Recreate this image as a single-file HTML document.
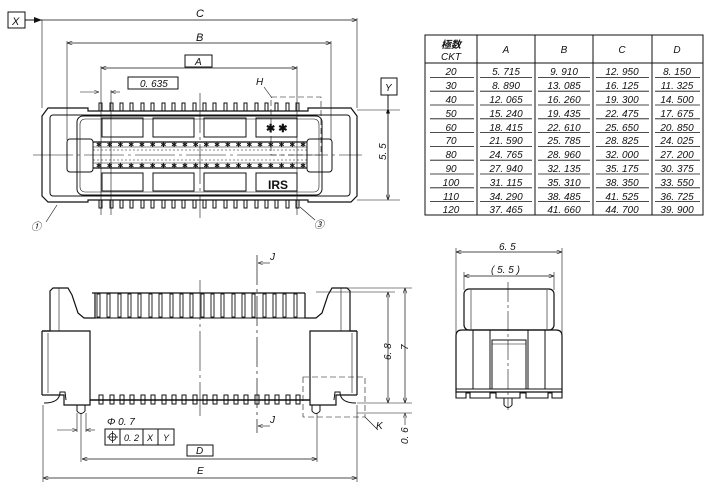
<!DOCTYPE html>
<html><head><meta charset="utf-8"><style>
html,body{margin:0;padding:0;background:#fff}
svg{display:block}
text{font-family:"Liberation Sans","Noto Sans CJK JP",sans-serif;font-style:italic;fill:#111}
</style></head><body>
<svg width="709" height="500" viewBox="0 0 709 500" xmlns="http://www.w3.org/2000/svg" stroke="#111" fill="none" stroke-width="1">
<defs>
<marker id="a" markerWidth="8" markerHeight="6" refX="8" refY="3" orient="auto-start-reverse"><path d="M0,0 L8,3 L0,6" stroke="#111" fill="none" stroke-width="0.8"/></marker>
<marker id="f" markerWidth="8" markerHeight="6" refX="8" refY="3" orient="auto-start-reverse"><path d="M0,0 L8,3 L0,6z" fill="#111" stroke="none"/></marker>
</defs>
<!-- ===== TOP VIEW ===== -->
<rect x="8" y="12" width="17" height="16"/><text x="12" y="25" font-size="11" stroke="none">X</text>
<line x1="25" y1="20" x2="42" y2="20" marker-end="url(#f)"/>
<line x1="42" y1="20" x2="357" y2="20" marker-end="url(#a)" stroke-width="0.7"/>
<text x="196" y="17" font-size="11" stroke="none">C</text>
<line x1="42" y1="20" x2="42" y2="108" stroke-width="0.6"/><line x1="357" y1="18" x2="357" y2="108" stroke-width="0.6"/>
<line x1="67" y1="43" x2="331" y2="43" marker-start="url(#a)" marker-end="url(#a)" stroke-width="0.7"/>
<text x="196" y="41" font-size="11" stroke="none">B</text>
<line x1="67" y1="41" x2="67" y2="140" stroke-width="0.6"/><line x1="331" y1="41" x2="331" y2="140" stroke-width="0.6"/>
<rect x="185" y="55" width="27" height="12"/><text x="195" y="65" font-size="10" stroke="none">A</text>
<line x1="101" y1="68" x2="297" y2="68" marker-start="url(#a)" marker-end="url(#a)" stroke-width="0.7"/>
<line x1="101" y1="66" x2="101" y2="215" stroke-width="0.6"/><line x1="297" y1="66" x2="297" y2="215" stroke-width="0.6"/>
<rect x="128" y="77" width="50" height="12"/><text x="140" y="87" font-size="10" stroke="none">0. 635</text>
<line x1="80" y1="92" x2="99" y2="92" marker-end="url(#a)" stroke-width="0.6"/>
<line x1="120" y1="92" x2="111" y2="92" marker-end="url(#a)" stroke-width="0.6"/>
<line x1="111" y1="90" x2="111" y2="215" stroke-width="0.6"/>
<text x="256" y="85" font-size="10" stroke="none">H</text>
<line x1="264" y1="87" x2="272" y2="98" stroke-width="0.6"/>
<rect x="271" y="97" width="50" height="58" stroke-dasharray="6,3" stroke-width="0.6"/>
<rect x="381" y="78" width="16" height="17"/><text x="385" y="91" font-size="10" stroke="none">Y</text>
<line x1="388" y1="95" x2="388" y2="108" />
<line x1="388" y1="200" x2="388" y2="108" marker-end="url(#f)" stroke-width="0.7"/>
<line x1="388" y1="110" x2="388" y2="200" marker-end="url(#a)" stroke-width="0.7"/>
<line x1="357" y1="110" x2="400" y2="110" stroke-width="0.6"/><line x1="357" y1="200" x2="400" y2="200" stroke-width="0.6"/>
<text x="0" y="0" font-size="10" stroke="none" transform="translate(386,160) rotate(-90)">5. 5</text>
<!-- body -->
<path d="M42,116 L48,108 L88,108 L88,111 L308,111 L308,108 L351,108 L357,116 L357,196 L351,202 L308,202 L308,200 L88,200 L88,202 L48,202 L42,196 Z" stroke-width="1.2"/>
<rect x="50" y="115" width="300" height="81" rx="3"/>
<rect x="77" y="116" width="245" height="79" rx="6"/>
<rect x="80" y="119" width="239" height="73" rx="5" stroke-width="0.6"/>
<g stroke-width="1">
<rect x="102" y="118" width="41" height="19"/><rect x="153" y="118" width="41" height="19"/><rect x="204" y="118" width="42" height="19"/><rect x="256" y="118" width="41" height="19"/>
<rect x="102" y="173" width="41" height="18"/><rect x="153" y="173" width="41" height="18"/><rect x="204" y="173" width="42" height="18"/><rect x="256" y="173" width="41" height="18"/>
</g>
<rect x="67" y="139" width="26" height="33" rx="3"/><rect x="307" y="139" width="25" height="33" rx="3"/>
<line x1="93" y1="142" x2="307" y2="142" stroke-width="1.2"/><line x1="93" y1="147" x2="307" y2="147" stroke-width="0.6"/>
<line x1="93" y1="163" x2="307" y2="163" stroke-width="0.6"/><line x1="93" y1="168" x2="307" y2="168" stroke-width="1.2"/>
<g font-size="7" stroke="none">
<text x="96" y="147" textLength="210" lengthAdjust="spacing" style="font-style:normal">✱✱✱✱✱✱✱✱✱✱✱✱✱✱✱✱✱✱✱✱</text>
<text x="96" y="168" textLength="210" lengthAdjust="spacing" style="font-style:normal">✱✱✱✱✱✱✱✱✱✱✱✱✱✱✱✱✱✱✱✱</text>
</g>
<line x1="93" y1="150" x2="307" y2="150" stroke-width="0.5" stroke-dasharray="2,2"/>
<line x1="93" y1="160" x2="307" y2="160" stroke-width="0.5" stroke-dasharray="2,2"/>
<line x1="33" y1="155" x2="362" y2="155" stroke-width="0.6" stroke-dasharray="40,4,3,4"/>
<line x1="200" y1="93" x2="200" y2="218" stroke-width="0.6" stroke-dasharray="40,4,3,4"/>
<g id="pt" stroke-width="1">
<rect x="99" y="103" width="3" height="8"/><rect x="110" y="103" width="3" height="8"/><rect x="120" y="103" width="3" height="8"/><rect x="130" y="103" width="3" height="8"/><rect x="141" y="103" width="3" height="8"/><rect x="151" y="103" width="3" height="8"/><rect x="162" y="103" width="3" height="8"/><rect x="172" y="103" width="3" height="8"/><rect x="182" y="103" width="3" height="8"/><rect x="193" y="103" width="3" height="8"/><rect x="203" y="103" width="3" height="8"/><rect x="213" y="103" width="3" height="8"/><rect x="224" y="103" width="3" height="8"/><rect x="234" y="103" width="3" height="8"/><rect x="244" y="103" width="3" height="8"/><rect x="255" y="103" width="3" height="8"/><rect x="265" y="103" width="3" height="8"/><rect x="275" y="103" width="3" height="8"/><rect x="286" y="103" width="3" height="8"/><rect x="296" y="103" width="3" height="8"/>
</g>
<use href="#pt" transform="translate(0,97)"/>
<text x="266" y="132" font-size="11" stroke="none" style="font-style:normal;font-weight:bold">✱ ✱</text>
<text x="268" y="189" font-size="12" stroke="none" style="font-style:normal;font-weight:bold">IRS</text>
<text x="31" y="230" font-size="10" stroke="none">①</text><line x1="46" y1="222" x2="57" y2="205" stroke-width="0.6"/>
<text x="314" y="228" font-size="10" stroke="none">③</text><line x1="315" y1="220" x2="300" y2="207" stroke-width="0.6"/>
<!-- ===== TABLE ===== -->
<g stroke-width="1">
<rect x="425" y="35" width="278" height="180"/>
<line x1="477" y1="35" x2="477" y2="215"/><line x1="535" y1="35" x2="535" y2="215"/><line x1="593" y1="35" x2="593" y2="215"/><line x1="652" y1="35" x2="652" y2="215"/>
<line x1="425" y1="63" x2="703" y2="63"/>
</g>
<g stroke-width="0.8">
<path d="M430,77.4H474M480,77.4H532M538,77.4H590M596,77.4H649M655,77.4H700 M430,91.2H474M480,91.2H532M538,91.2H590M596,91.2H649M655,91.2H700 M430,105H474M480,105H532M538,105H590M596,105H649M655,105H700 M430,118.8H474M480,118.8H532M538,118.8H590M596,118.8H649M655,118.8H700 M430,132.6H474M480,132.6H532M538,132.6H590M596,132.6H649M655,132.6H700 M430,146.4H474M480,146.4H532M538,146.4H590M596,146.4H649M655,146.4H700 M430,160.2H474M480,160.2H532M538,160.2H590M596,160.2H649M655,160.2H700 M430,174H474M480,174H532M538,174H590M596,174H649M655,174H700 M430,187.8H474M480,187.8H532M538,187.8H590M596,187.8H649M655,187.8H700 M430,201.6H474M480,201.6H532M538,201.6H590M596,201.6H649M655,201.6H700"/>
</g>
<g font-size="10" stroke="none" text-anchor="middle">
<text x="451" y="48" font-weight="bold">極数</text><text x="451" y="60">CKT</text>
<text x="506" y="53">A</text><text x="564" y="53">B</text><text x="622" y="53">C</text><text x="677" y="53">D</text>
<text x="451" y="75">20</text><text x="506" y="75">5. 715</text><text x="564" y="75">9. 910</text><text x="622" y="75">12. 950</text><text x="677" y="75">8. 150</text>
<text x="451" y="89">30</text><text x="506" y="89">8. 890</text><text x="564" y="89">13. 085</text><text x="622" y="89">16. 125</text><text x="677" y="89">11. 325</text>
<text x="451" y="103">40</text><text x="506" y="103">12. 065</text><text x="564" y="103">16. 260</text><text x="622" y="103">19. 300</text><text x="677" y="103">14. 500</text>
<text x="451" y="117">50</text><text x="506" y="117">15. 240</text><text x="564" y="117">19. 435</text><text x="622" y="117">22. 475</text><text x="677" y="117">17. 675</text>
<text x="451" y="131">60</text><text x="506" y="131">18. 415</text><text x="564" y="131">22. 610</text><text x="622" y="131">25. 650</text><text x="677" y="131">20. 850</text>
<text x="451" y="144">70</text><text x="506" y="144">21. 590</text><text x="564" y="144">25. 785</text><text x="622" y="144">28. 825</text><text x="677" y="144">24. 025</text>
<text x="451" y="158">80</text><text x="506" y="158">24. 765</text><text x="564" y="158">28. 960</text><text x="622" y="158">32. 000</text><text x="677" y="158">27. 200</text>
<text x="451" y="172">90</text><text x="506" y="172">27. 940</text><text x="564" y="172">32. 135</text><text x="622" y="172">35. 175</text><text x="677" y="172">30. 375</text>
<text x="451" y="186">100</text><text x="506" y="186">31. 115</text><text x="564" y="186">35. 310</text><text x="622" y="186">38. 350</text><text x="677" y="186">33. 550</text>
<text x="451" y="200">110</text><text x="506" y="200">34. 290</text><text x="564" y="200">38. 485</text><text x="622" y="200">41. 525</text><text x="677" y="200">36. 725</text>
<text x="451" y="213">120</text><text x="506" y="213">37. 465</text><text x="564" y="213">41. 660</text><text x="622" y="213">44. 700</text><text x="677" y="213">39. 900</text>
</g>
<!-- ===== FRONT VIEW ===== -->
<path d="M42,331 L50,331 L50,291 L53,288 L68,288 L72,295 L78,313 L84,318 L95,318 L95,293" stroke-width="1.2"/>
<path d="M357,331 L350,331 L350,291 L347,288 L332,288 L328,295 L322,313 L316,318 L305,318 L305,293" stroke-width="1.2"/>
<line x1="59" y1="288" x2="59" y2="331" stroke-width="0.6"/><line x1="341" y1="288" x2="341" y2="331" stroke-width="0.6"/>
<path d="M92,293 L305,293" stroke-width="1.2"/><line x1="84" y1="318" x2="316" y2="318"/>
<g stroke-width="0.9">
<rect x="97" y="294" width="3" height="23"/><rect x="107" y="294" width="3" height="23"/><rect x="118" y="294" width="3" height="23"/><rect x="128" y="294" width="3" height="23"/><rect x="138" y="294" width="3" height="23"/><rect x="149" y="294" width="3" height="23"/><rect x="159" y="294" width="3" height="23"/><rect x="170" y="294" width="3" height="23"/><rect x="180" y="294" width="3" height="23"/><rect x="190" y="294" width="3" height="23"/><rect x="201" y="294" width="3" height="23"/><rect x="211" y="294" width="3" height="23"/><rect x="221" y="294" width="3" height="23"/><rect x="232" y="294" width="3" height="23"/><rect x="242" y="294" width="3" height="23"/><rect x="252" y="294" width="3" height="23"/><rect x="263" y="294" width="3" height="23"/><rect x="273" y="294" width="3" height="23"/><rect x="283" y="294" width="3" height="23"/><rect x="294" y="294" width="3" height="23"/>
</g>
<path d="M42,331 L42,395 M42,331 L90,331 L90,405 L64,405 L64,395 L42,395" stroke-width="1.2"/>
<path d="M357,331 L357,395 M357,331 L310,331 L310,405 L336,405 L336,395 L357,395" stroke-width="1.2"/>
<line x1="48" y1="333" x2="48" y2="393" stroke-width="0.6"/><line x1="352" y1="333" x2="352" y2="393" stroke-width="0.6"/>
<path d="M44,403 Q60,403 60,392 L65,392 L66,400" stroke-width="1"/>
<path d="M356,403 Q340,403 340,392 L335,392 L334,400" stroke-width="1"/>
<line x1="90" y1="400" x2="310" y2="400" stroke-width="1.5"/>
<g stroke-width="1">
<rect x="99" y="395" width="4" height="9"/><rect x="110" y="395" width="4" height="9"/><rect x="120" y="395" width="4" height="9"/><rect x="130" y="395" width="4" height="9"/><rect x="141" y="395" width="4" height="9"/><rect x="151" y="395" width="4" height="9"/><rect x="162" y="395" width="4" height="9"/><rect x="172" y="395" width="4" height="9"/><rect x="182" y="395" width="4" height="9"/><rect x="193" y="395" width="4" height="9"/><rect x="203" y="395" width="4" height="9"/><rect x="213" y="395" width="4" height="9"/><rect x="224" y="395" width="4" height="9"/><rect x="234" y="395" width="4" height="9"/><rect x="244" y="395" width="4" height="9"/><rect x="255" y="395" width="4" height="9"/><rect x="265" y="395" width="4" height="9"/><rect x="275" y="395" width="4" height="9"/><rect x="286" y="395" width="4" height="9"/><rect x="296" y="395" width="4" height="9"/>
</g>
<path d="M77,405 L77,411 Q81,416 85,411 L85,405" /><path d="M312,405 L312,411 Q316,416 320,411 L320,405"/>
<line x1="200" y1="280" x2="200" y2="416" stroke-width="0.6" stroke-dasharray="40,4,3,4"/>
<line x1="257" y1="255" x2="257" y2="433" stroke-width="0.7" stroke-dasharray="30,4,3,4"/>
<line x1="270" y1="263" x2="258" y2="263" marker-end="url(#a)" stroke-width="0.6"/><text x="270" y="260" font-size="10" stroke="none">J</text>
<line x1="270" y1="426" x2="258" y2="426" marker-end="url(#a)" stroke-width="0.6"/><text x="270" y="423" font-size="10" stroke="none">J</text>
<rect x="303" y="377" width="62" height="40" stroke-dasharray="6,3" stroke-width="0.6"/>
<line x1="365" y1="417" x2="378" y2="430" stroke-width="0.6"/><text x="376" y="429" font-size="10" stroke="none">K</text>
<line x1="342" y1="288" x2="412" y2="288" stroke-width="0.6"/><line x1="316" y1="292" x2="395" y2="292" stroke-width="0.6"/>
<line x1="357" y1="403" x2="412" y2="403" stroke-width="0.6"/><line x1="357" y1="413" x2="412" y2="413" stroke-width="0.6"/>
<line x1="388" y1="292" x2="388" y2="403" marker-start="url(#a)" marker-end="url(#a)" stroke-width="0.7"/>
<line x1="405" y1="288" x2="405" y2="403" marker-start="url(#a)" marker-end="url(#a)" stroke-width="0.7"/>
<line x1="405" y1="425" x2="405" y2="413" marker-end="url(#a)" stroke-width="0.6"/>
<text font-size="10" stroke="none" transform="translate(391,360) rotate(-90)">6. 8</text>
<text font-size="10" stroke="none" transform="translate(408,350) rotate(-90)">7</text>
<text font-size="10" stroke="none" transform="translate(408,444) rotate(-90)">0. 6</text>
<text x="107" y="425" font-size="10" stroke="none">Φ 0. 7</text>
<line x1="57" y1="430" x2="77" y2="430" marker-end="url(#a)" stroke-width="0.6"/>
<line x1="95" y1="430" x2="86" y2="430" marker-end="url(#a)" stroke-width="0.6"/>
<line x1="77" y1="413" x2="77" y2="432" stroke-width="0.6"/><line x1="86" y1="413" x2="86" y2="432" stroke-width="0.6"/>
<line x1="81" y1="413" x2="81" y2="462" stroke-width="0.6"/><line x1="317" y1="413" x2="317" y2="462" stroke-width="0.6"/>
<rect x="105" y="429" width="69" height="16"/>
<line x1="120" y1="429" x2="120" y2="445"/><line x1="143" y1="429" x2="143" y2="445"/><line x1="158" y1="429" x2="158" y2="445"/>
<circle cx="112.5" cy="437" r="3.5" stroke-width="0.8"/><line x1="107" y1="437" x2="118" y2="437" stroke-width="0.8"/><line x1="112.5" y1="431" x2="112.5" y2="443" stroke-width="0.8"/>
<text x="124" y="441" font-size="9" stroke="none">0. 2</text><text x="147" y="441" font-size="9" stroke="none">X</text><text x="163" y="441" font-size="9" stroke="none">Y</text>
<rect x="187" y="445" width="26" height="11"/><text x="196" y="454" font-size="10" stroke="none">D</text>
<line x1="82" y1="459" x2="317" y2="459" marker-start="url(#a)" marker-end="url(#a)" stroke-width="0.7"/>
<line x1="43" y1="405" x2="43" y2="482" stroke-width="0.6"/><line x1="357" y1="405" x2="357" y2="482" stroke-width="0.6"/>
<line x1="43" y1="478" x2="357" y2="478" marker-start="url(#a)" marker-end="url(#a)" stroke-width="0.7"/>
<text x="197" y="474" font-size="10" stroke="none">E</text>
<!-- ===== SIDE VIEW ===== -->
<line x1="456" y1="248" x2="456" y2="398" stroke-width="0.6"/><line x1="562" y1="248" x2="562" y2="398" stroke-width="0.6"/>
<line x1="456" y1="252" x2="562" y2="252" marker-start="url(#a)" marker-end="url(#a)" stroke-width="0.7"/>
<text x="499" y="250" font-size="10" stroke="none">6. 5</text>
<line x1="464" y1="272" x2="464" y2="290" stroke-width="0.6"/><line x1="554" y1="272" x2="554" y2="290" stroke-width="0.6"/>
<line x1="464" y1="276" x2="554" y2="276" marker-start="url(#a)" marker-end="url(#a)" stroke-width="0.7"/>
<text x="491" y="273" font-size="10" stroke="none">( 5. 5 )</text>
<rect x="464" y="289" width="90" height="41" rx="5" stroke-width="1.2"/>
<line x1="471" y1="290" x2="471" y2="329" stroke-width="0.6"/><line x1="547" y1="290" x2="547" y2="329" stroke-width="0.6"/>
<path d="M456,336 Q456,330 462,330 L556,330 Q562,330 562,336 L562,392 L456,392 Z" stroke-width="1.2"/>
<line x1="473" y1="330" x2="473" y2="389"/><line x1="490" y1="330" x2="490" y2="389"/>
<line x1="528" y1="330" x2="528" y2="389"/><line x1="545" y1="330" x2="545" y2="389"/>
<rect x="492" y="340" width="34" height="49"/><line x1="492" y1="344" x2="526" y2="344" stroke-width="0.6"/>
<path d="M456,389 L562,389 M456,392 L456,398 L466,398 L466,393 L470,393 L470,398 L490,398 L490,393 L496,393 L496,398 L520,398 L520,393 L526,393 L526,398 L548,398 L548,393 L552,393 L552,398 L562,398 L562,392" stroke-width="1.1"/>
<path d="M504,398 L504,405 Q508,410 512,405 L512,398"/>
<line x1="508" y1="282" x2="508" y2="410" stroke-width="0.6" stroke-dasharray="20,3,3,3"/>
</svg>
</body></html>
